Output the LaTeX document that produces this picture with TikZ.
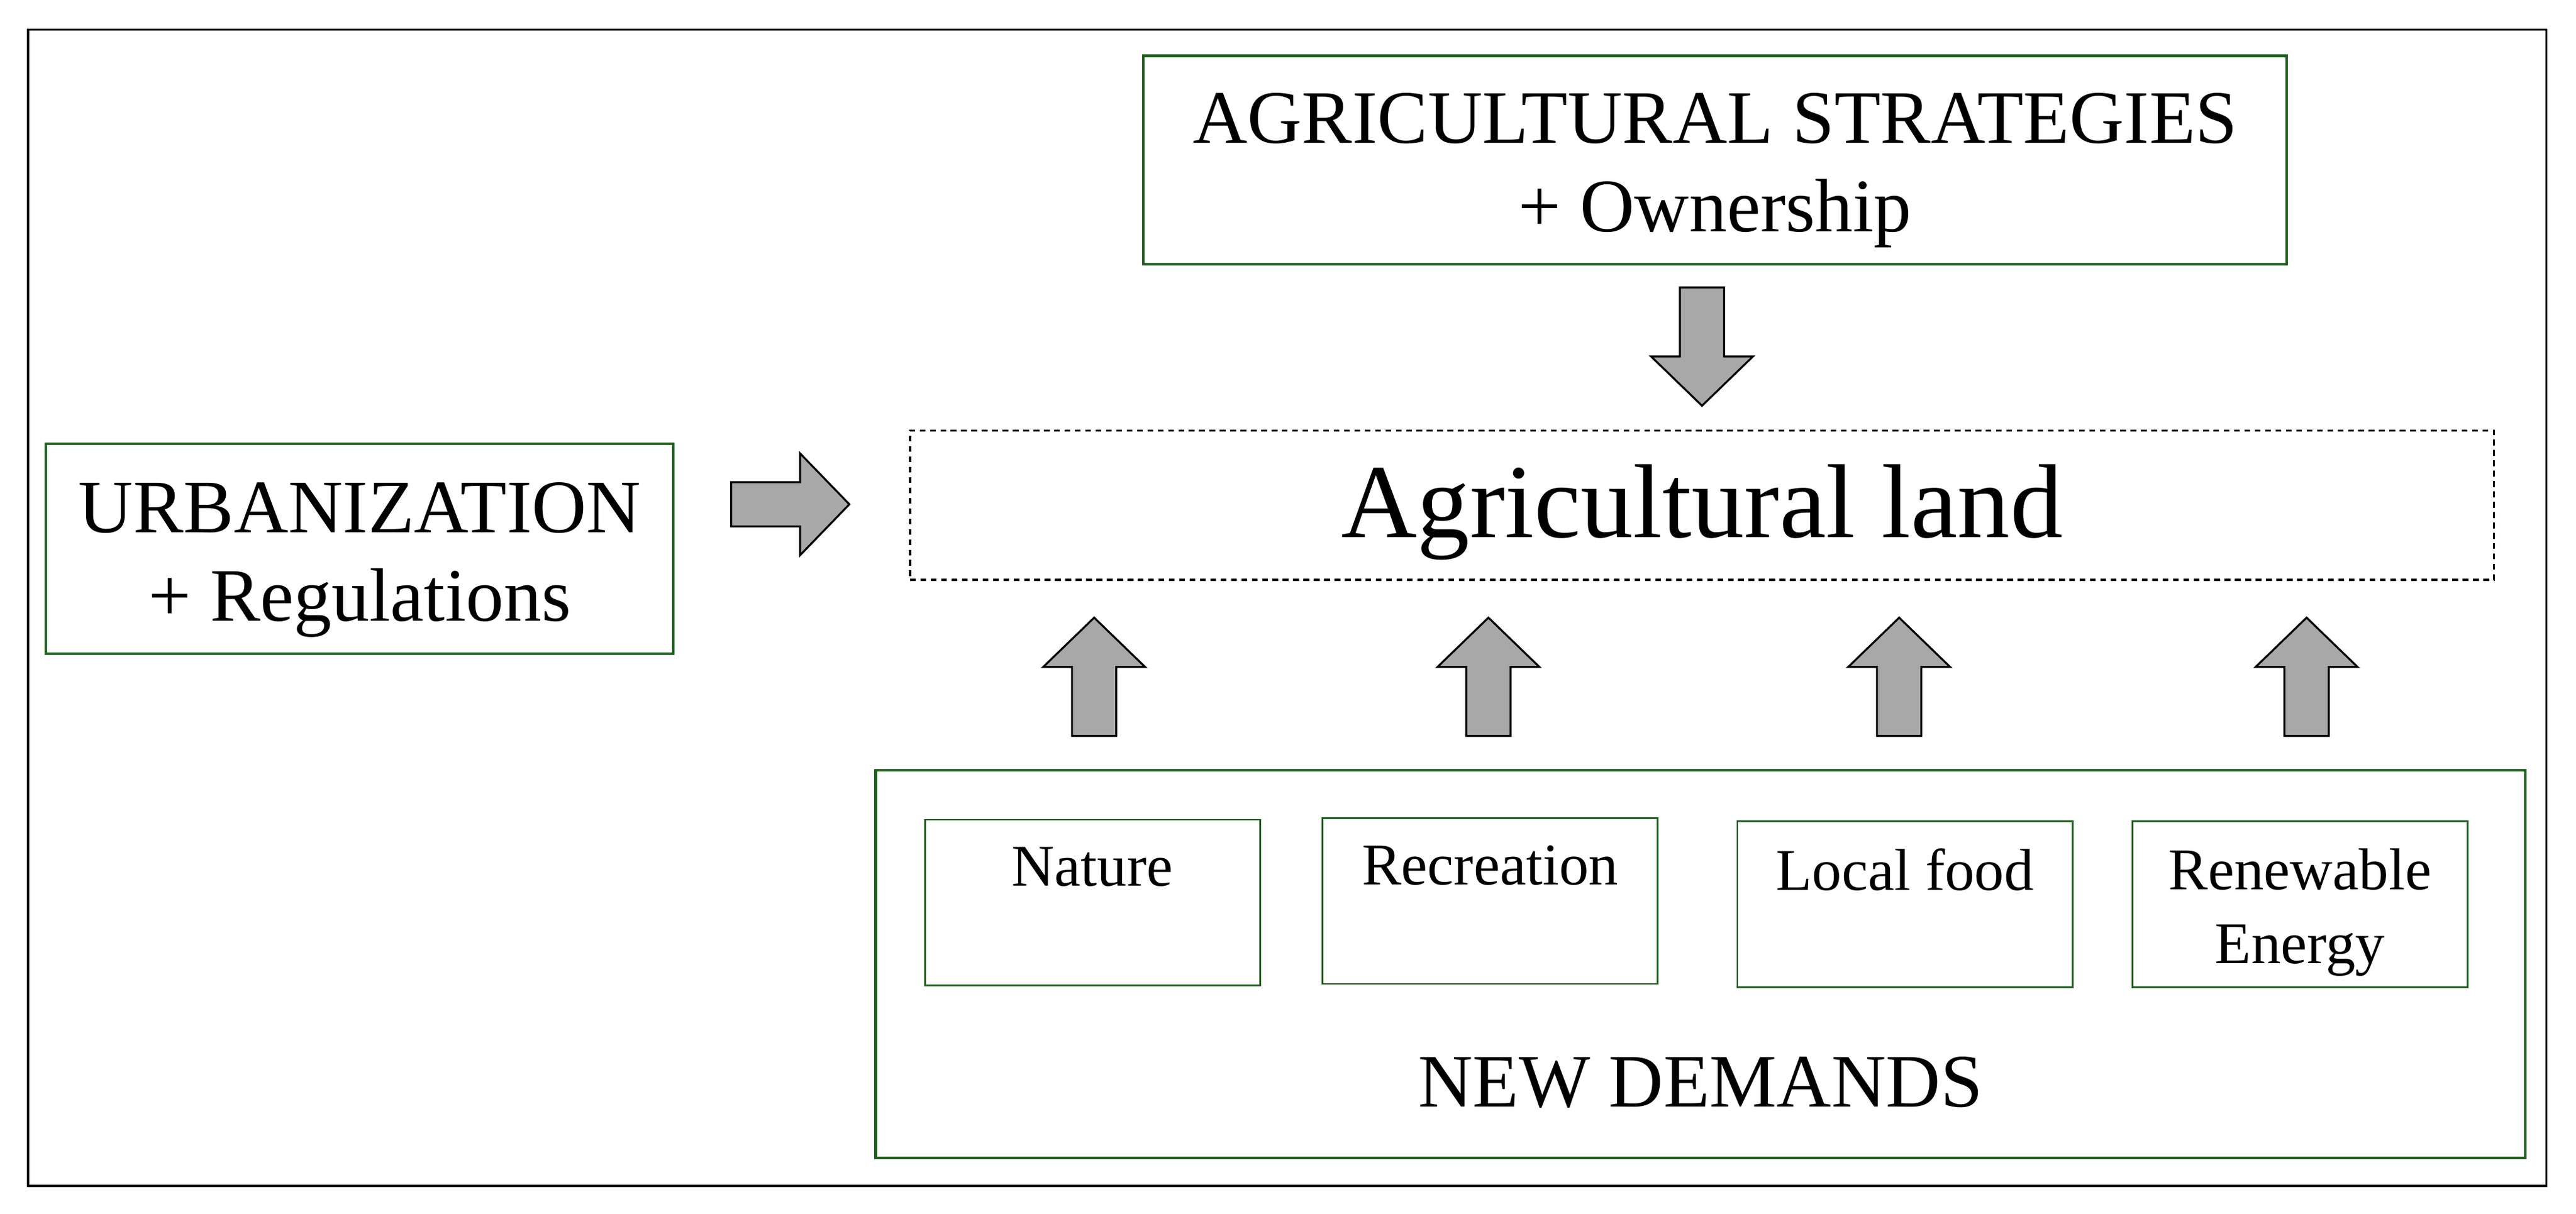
\documentclass[tikz,border=0pt]{standalone}
\usepackage{fontspec}
\setmainfont{Liberation Serif}
\definecolor{boxgreen}{HTML}{1E5E1E}
\definecolor{arrowgray}{HTML}{A8A8A8}
\begin{document}
\begin{tikzpicture}
  [x=1pt,y=-1pt,
   greenbox/.style={draw=boxgreen,line width=1.5pt,inner sep=0pt},
   smallbox/.style={draw=boxgreen,line width=1pt,inner sep=0pt,minimum width=204,minimum height=101},
   landbox/.style={draw,line width=1.2pt,dash pattern=on 3.5pt off 2.8pt,inner sep=0pt},
   bigtext/.style={inner sep=0pt,align=center,font=\fontsize{46}{54}\selectfont},
   smalltext/.style={inner sep=0pt,align=center,font=\fontsize{36}{45}\selectfont},
   bigarrow/.pic={\draw[fill=arrowgray,line width=1.2pt]
     (0,-13.5) -- (42,-13.5) -- (42,-31) -- (72,0) -- (42,31) -- (42,13.5) -- (0,13.5) -- cycle;}]
  \useasboundingbox (0,0) rectangle (1568,739);
  \draw[line width=1.3pt] (17,18) rectangle (1550,722);

  \node[greenbox,minimum width=696,minimum height=127] (strategies) at (1044,97.5) {};
  \node[bigtext,anchor=north] (strategiestext) at (1044,56.5) {AGRICULTURAL STRATEGIES\\+ Ownership};
  \node[greenbox,minimum width=382,minimum height=128] (urban) at (219,334) {};
  \node[bigtext,anchor=north] (urbantext) at (219,293.5) {URBANIZATION\\+ Regulations};
  \node[landbox,minimum width=964,minimum height=91] (land) at (1036,307.5) {};
  \node[inner sep=0pt,anchor=base,font=\fontsize{64}{77}\selectfont] (landtext) at (1036,327) {Agricultural land};
  \node[greenbox,minimum width=1004,minimum height=236] (demands) at (1035,587) {};
  \node[bigtext,anchor=base] (demandstext) at (1035,674) {NEW DEMANDS};

  \foreach \name/\cx/\cy/\txt in {nature/665/549.5/Nature,recreation/907/548.5/Recreation,
      food/1159.5/550.5/Local food,energy/1400/550.5/{Renewable\\Energy}}
  {
    \node[smallbox] (\name) at (\cx,\cy) {};
    \node[smalltext,anchor=north,yshift=-17pt] (\name text) at (\name.north) {\txt};
  }

  \pic at (445,307) {bigarrow};
  \pic[rotate=-90] at (1036,175) {bigarrow};
  \foreach \cx in {666,906,1156,1404}
    \pic[rotate=90] at (\cx,448) {bigarrow};

\end{tikzpicture}
\end{document}
